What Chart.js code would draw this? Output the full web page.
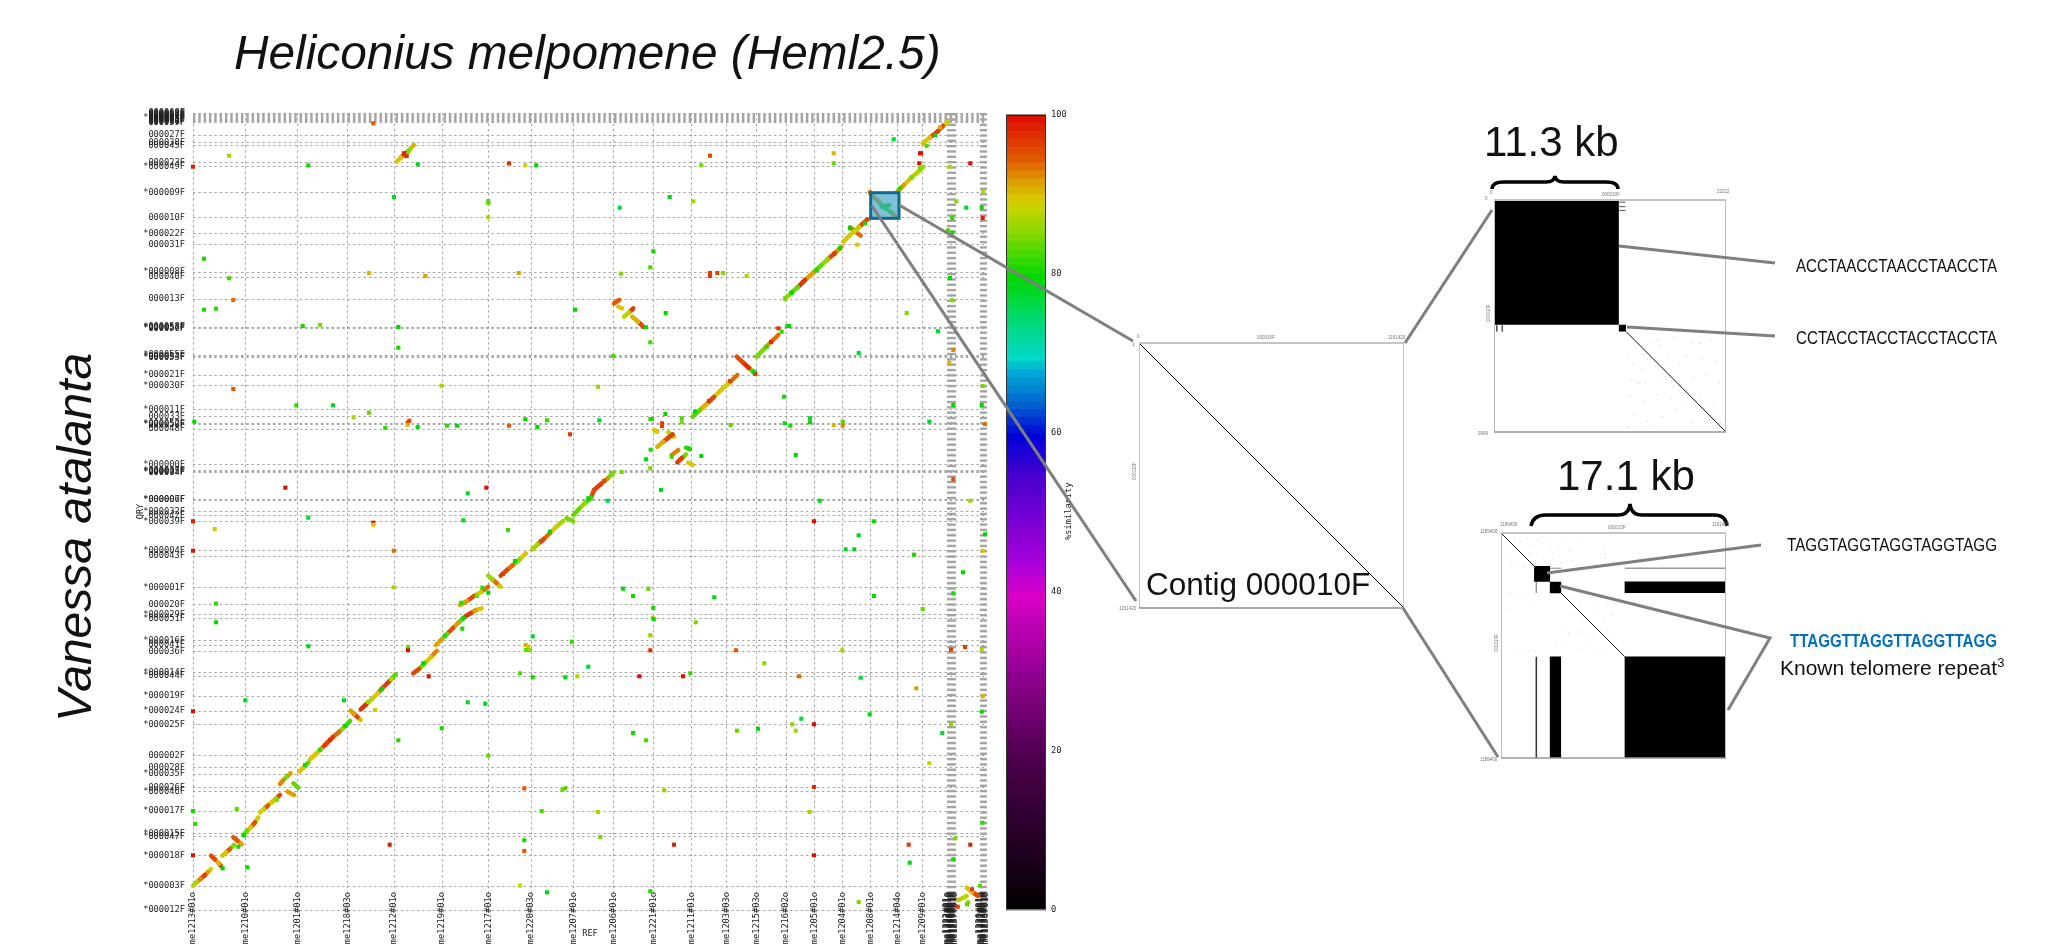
<!DOCTYPE html>
<html>
<head>
<meta charset="utf-8">
<title>Heliconius melpomene (Heml2.5) vs Vanessa atalanta</title>
<script src="https://cdn.jsdelivr.net/npm/chart.js@4/dist/chart.umd.js"></script>
<style>
    html, body { margin: 0; padding: 0; background: #fff; }
    #page { position: relative; width: 2060px; height: 946px; overflow: hidden; background: #fff; }
    #page canvas { position: absolute; }
    #notes { position: absolute; left: 0; top: 0; pointer-events: none; }
    #notes text { font-family: "Liberation Sans", Arial, sans-serif; }
    #notes .tiny { font-size: 4.5px; fill: #777; }
    #notes .mono { font-family: "DejaVu Sans Mono", monospace; font-size: 8.7px; fill: #222; }
    #notes .seq { font-size: 19px; fill: #111; }
</style>
</head>
<body>
<div id="page">
    <canvas id="dotplot" width="870" height="856" style="left:130px;top:90px"></canvas>
    <canvas id="colorbar" width="76" height="815" style="left:1000px;top:105px"></canvas>
    <canvas id="contig" width="269" height="269" style="left:1137px;top:341px"></canvas>
    <canvas id="zoomTop" width="240" height="240" style="left:1490px;top:196px"></canvas>
    <canvas id="zoomBottom" width="233" height="233" style="left:1497px;top:529px"></canvas>
    <svg id="notes" width="2060" height="946">
        <text x="234" y="69" font-size="47.8" font-style="italic" fill="#111">Heliconius melpomene (Heml2.5)</text>
        <text transform="translate(91,722) rotate(-90)" font-size="48" font-style="italic" fill="#111">Vanessa atalanta</text>
        <text class="mono" transform="translate(1071,540) rotate(-90)">%similarity</text>

        <g stroke="#7f7f7f" stroke-width="3" fill="none">
            <line x1="899" y1="205" x2="1133" y2="341"/>
            <line x1="872" y1="206" x2="1136" y2="601"/>
            <line x1="1405" y1="343" x2="1492" y2="210"/>
            <line x1="1403" y1="608" x2="1498" y2="757"/>
            <line x1="1619" y1="246" x2="1775" y2="263"/>
            <line x1="1627" y1="327" x2="1775" y2="336"/>
            <line x1="1547" y1="573" x2="1761" y2="545"/>
            <polyline points="1560,586 1770,638 1728,710"/>
        </g>
        <g stroke="#000" stroke-width="3.5" fill="none">
            <path d="M1492 189 Q1492 182 1504 182 L1546 182 Q1554 182 1555 176 Q1556 182 1564 182 L1606 182 Q1618 182 1618 189"/>
            <path d="M1531 526 Q1533 515 1546 515 L1618 515 Q1629 515 1630 504 Q1631 515 1642 515 L1714 515 Q1726 515 1727 526"/>
        </g>

        <text x="1484" y="156" font-size="42" fill="#111">11.3 kb</text>
        <text x="1557" y="490" font-size="42" fill="#111">17.1 kb</text>
        <text x="1146" y="595" font-size="31.5" fill="#111">Contig 000010F</text>
        <text class="seq" x="1796" y="272" textLength="201" lengthAdjust="spacingAndGlyphs">ACCTAACCTAACCTAACCTA</text>
        <text class="seq" x="1796" y="344" textLength="201" lengthAdjust="spacingAndGlyphs">CCTACCTACCTACCTACCTA</text>
        <text class="seq" x="1787" y="551" textLength="210" lengthAdjust="spacingAndGlyphs">TAGGTAGGTAGGTAGGTAGG</text>
        <text class="seq" x="1790" y="647" textLength="207" lengthAdjust="spacingAndGlyphs" font-weight="bold" style="fill:#0070c0">TTAGGTTAGGTTAGGTTAGG</text>
        <text x="1780" y="675" font-size="21" fill="#111">Known telomere repeat<tspan font-size="13" dy="-8">3</tspan></text>

        <text class="tiny" x="1137" y="338">0</text>
        <text class="tiny" x="1257" y="339">000010F</text>
        <text class="tiny" x="1388" y="339">1161420</text>
        <text class="tiny" x="1132" y="346">1</text>
        <text class="tiny" x="1119" y="610">1161420</text>
        <text class="tiny" transform="translate(1136,480) rotate(-90)">000010F</text>
        <text class="tiny" x="1490" y="194">0</text>
        <text class="tiny" x="1602" y="196">000010F</text>
        <text class="tiny" x="1717" y="193">22222</text>
        <text class="tiny" x="1485" y="200">0</text>
        <text class="tiny" x="1478" y="435">9999</text>
        <text class="tiny" transform="translate(1490,322) rotate(-90)">000010F</text>
        <text class="tiny" x="1500" y="526">1189400</text>
        <text class="tiny" x="1608" y="529">000010F</text>
        <text class="tiny" x="1712" y="526">1161420</text>
        <text class="tiny" x="1480" y="533">1189400</text>
        <text class="tiny" x="1480" y="761">1189400</text>
        <text class="tiny" transform="translate(1498,652) rotate(-90)">000010F</text>
    </svg>
</div>

<script>
// Contig boundaries on the query axis and their names
const contigTicks = [0, 24, 54.7, 73.3, 76.7, 99, 118.7, 122.7, 136, 142.7, 154.3, 185.7, 199, 214,
    234, 237.3, 258.7, 265, 269.3, 291.7, 295.3, 305.3, 322.7, 354, 359.3, 388.7, 394.3, 398.3,
    410, 410.7, 437.6, 438.3, 439, 445.7, 481, 485.4, 486.2, 493, 500.3, 524.3, 535, 552.7, 553.4, 555,
    581.7, 582.3, 583, 611, 633, 638, 665.3, 676.3, 692.7, 717.3, 743.7, 747.7, 764.3, 767.3, 775,
    787.2, 788.2, 789.2, 790.2, 791.2, 792.2, 793.2, 794.2, 795.2, 796.2, 796.8];
const contigLabels = ['*000012F', '*000003F', '*000018F', '*000047F', '*000015F', '*000017F', '*000046F', '000026F', '*000035F', '000028F', '000002F', '*000025F', '*000024F', '*000019F',
    '*000044F', '*000014F', '000036F', '000041F', '*000016F', '*000051F', '*000029F', '000020F', '*000001F', '000043F', '*000004F', '*000039F', '000042F', '*000032F',
    '*000006F', '*000007F', '*000034F', '*000005F', '*000037F', '*000000F', '000048F', '*000050F', '*000052F', '000033F', '*000011F', '*000030F', '*000021F', '*000053F', '*000054F', '*000055F',
    '*000056F', '*000057F', '*000058F', '000013F', '000040F', '*000008F', '000031F', '*000022F', '000010F', '*000009F', '*000049F', '000023F', '000045F', '000038F', '000027F',
    '000059F', '000060F', '000061F', '000062F', '000063F', '*000064F', '000065F', '000066F', '000067F', '000068F', '000069F'];

// Reference scaffold boundaries on the x axis and their names
const refTicks = [0, 52.7, 104.7, 154.3, 201, 249, 295.3, 338, 380.3, 420.3, 460.3, 498.7, 533.7, 563.7, 593, 621.3, 649.7, 677.7, 704.7, 729.7,
    754.2, 755.2, 756.2, 757.2, 758.2, 759.2, 760.2, 761.2, 762.2, 787.2, 788.2, 789.2, 790.2, 791.2, 792.2, 793.2];
const refLabels = ['me1213#01o', 'me1210#01o', 'me1201#01o', 'me1218#03o', 'me1212#01o', 'me1219#01o', 'me1217#01o', 'me1220#03o', 'me1207#01o', 'me1206#01o',
    'me1221#01o', 'me1211#01o', 'me1203#03o', 'me1215#03o', 'me1216#02o', 'me1205#01o', 'me1204#01o', 'me1208#01o', 'me1214#04o', 'me1209#01o',
    'me1222#01o', 'me1223#01o', 'me1224#01o', 'me1225#01o', 'me1226#01o', 'me1227#01o', 'me1228#01o', 'me1229#01o', 'me1237#01o',
    'me1230#01o', 'me1231#01o', 'me1232#01o', 'me1233#01o', 'me1234#01o', 'me1235#01o', 'me1236#01o'];

// Short alignments that show as single dots: [ref, query, % similarity]
const dots = [
    [180.3,786.7,95],[36,754.3,87],[0,743.3,99],[115.3,744.7,81],[224.7,745.7,79],[316,746.7,98],[332.3,744.7,89],[343.3,744.7,80],
    [201,713,78],[295.3,707,84],[295.3,709,84],[295.3,692.7,87],[426.7,702.3,78],[11,651.3,81],[176,637,91],[232.3,634,92],[325.7,637,92],
    [428,636.3,85],[36,631.7,83],[40.3,610,94],[11,600.3,81],[23,601.3,82],[382,600.3,80],[109.7,584,81],[127,585,85],[205.3,583,80],
    [205.3,562.3,81],[420.3,554,83],[40.3,521,95],[248.7,524.3,87],[405,523.3,86],[103.3,504.7,82],[140,504.7,79],[160.7,492.7,87],
    [176,497.3,84],[1.3,488.3,80],[192.3,482,82],[216.3,489.3,96],[214.7,487.3,97],[214.7,485.3,91],[224.7,483,79],[254,484.3,82],
    [264,484.3,80],[316,484.3,95],[332.3,490.7,80],[344.3,483,80],[354,489.7,82],[406.3,489.7,78],[377,475.7,97],[428.7,438,85],
    [92.3,422.3,100],[293.3,422.3,100],
    [274.7,416.7,78],[414.7,409.3,76],[115.3,392.3,77],[0,388.7,99],[180.3,387.3,100],[180.3,385.3,90],[270.3,389.7,79],[21.7,381,90],
    [315,380,83],[0,359.3,100],[201,359.3,94],[201,322.7,88],[430,321.3,80],[23,306.3,82],[23,287.7,80],[115.3,263.7,79],[215,263,84],
    [215,259.7,100],[269.3,281.3,81],[339.7,273.7,79],[379,268.3,82],[332.7,265,91],[335.3,263.3,90],[337,260,86],[333,260,84],
    [395.3,243.3,78],[327,236.7,83],[235.7,233.7,100],[339.7,232.7,81],[372.3,232.7,79],[384.3,233.7,88],[151,209.7,79],[52.3,209.7,79],
    [274.7,207.7,78],[292.3,206.3,79],[182,200,90],[0,198.7,100],[248.7,181.7,81],[205.3,169.7,82],[295.3,154.3,84],[331.3,121.7,95],
    [369.3,120,85],[372.3,121.7,83],[0,99,81],[348.7,99,83],[405,98,87],[43.7,101,84],[2,86,82],[331.3,69.7,81],[407.3,73,85],[196.7,65.3,99],
    [331.3,59,95],[0,54.7,100],[54.3,42.7,80],[327,24.3,89],[354,17.7,79],[29.7,41.7,80],[45.3,63.3,81],[268.3,307.3,82],[289.3,322.3,82],[295.3,317.3,80],
    [517,754.3,96],[508.3,744.7,85],[476.7,713,79],[500.3,708.7,86],[460.3,658.7,81],[457.3,642.7,83],[517,637,97],[517,634,97],[524.3,637,96],
    [530,637,85],[553.7,634,87],[472.7,597,80],[713.7,597,85],[745,578.7,78],[665.7,557,78],[457.3,567.7,83],[591,513.3,81],[472.3,496,80],
    [457.3,491,83],[459,491,81],[469,486.7,97],[469,484,97],[488.7,491.7,83],[488.7,487.7,85],[537.7,485,84],[591.7,486.7,79],[597.3,484.3,81],
    [617,491.7,78],[617,487.7,80],[640.7,485,91],[649.7,488.3,83],[649.7,484.3,93],[736.3,488.3,78],[457.7,460.3,81],[453,450.7,79],[508.3,454,80],
    [602.7,455,80],[457.3,441.7,85],[700.7,770.7,77],[640.7,756.7,91],[640.7,746.7,84],[727,756.7,100],[728,756.7,100],[726.3,746.7,100],[777.3,746.7,100],
    [757,743.3,88],[790.3,718,87],[763.3,708.7,86],[773.3,702.3,78],[788.7,702.3,80],[759.3,692,82],[789.7,692,99],[755,679.7,83],[759.3,677.3,81],
    [664.3,665.3,90],[757,632,80],[759.3,609.7,85],[760.3,560,93],[756.3,547.3,91],[789.7,524,85],[760.3,505,80],[788.7,505,80],[792,486,94],[760.3,430.7,96],
    [468,420,79],[626.7,409.3,79],[777.3,409.3,86],[621,388.7,100],[681,388.7,80],[665.7,374.7,78],[652.7,360.7,78],[661.3,360.7,78],[789.7,359.3,90],
    [721,355.3,81],[792,375.7,80],[770,337.7,80],[455.3,321.3,84],[440,314,81],[521.3,312.7,79],[681,314,80],[760.3,316.7,81],[460.3,302,81],[729.7,301,84],
    [459.7,292,88],[460.7,291,79],[502.7,287.7,85],[457.3,274.7,86],[457.3,259.7,98],[543,259.7,95],[649.3,259.7,87],[772,263,97],[758,260.3,97],[788.7,260.3,87],
    [571.3,246.7,86],[497.3,236.7,82],[446.3,233.7,100],[490,233.7,100],[606,233.7,94],[667.7,232.3,77],[723.3,221.7,92],[789.7,213.7,91],[788.7,198.3,80],
    [676.7,195.7,79],[608.3,191.3,77],[599.3,185.7,86],[621,185.7,100],[758,185.7,86],[544,179.3,84],[565,181.3,80],[602.7,179.3,86],[440,177,81],[749.3,177,78],
    [453,169.7,83],[736.3,146.7,89],[621,123,98],[471.3,119.7,86],[616.7,98,87],[789.3,87.3,82],[762.3,71.7,85],[481,65.3,99],[715.7,65.3,97],[777.3,65.3,99],
    [621,54.7,100],[716.7,47.3,79],[760.3,50.7,81],[457.3,18.7,81],[665.7,8,85],[787,24.3,84],[775.3,7.7,86],[774,5.7,84],
    [211,756.7,99],[213.7,754,98],[215.3,757.7,85],[478.7,453.3,82],[453,582.7,81],[562,536.3,98],[585.3,581.7,97],[588.7,578.3,82],[594.3,584,81],[596,584,80],
    [677,717.7,94],[733.7,764.3,83],[747,782.7,91],[764.7,3.3,97],[779,20.7,97]
];

// Patches of other colours sitting on the long alignments: [ref, query, % similarity]
const runPatches = [
    [127,160,82],[112,145,81],[230.3,246.7,80],[252,274.3,81],[188.7,221,80],[322,349,80],[357,378.3,80],[395.3,411.7,79],[152,184,79],
    [51,74.7,80],[83.7,110,85],[283.7,314,84],[270.3,291.7,80],[647,661.7,80],[623.7,640,82],[598.7,617.3,80],[502,498.3,80],[560.3,538.3,80],
    [573.7,563.3,82],[742,775,80],[672,686.7,81],[657,681.7,80],[707,721.7,82],[718.7,732.7,85],[727,741.7,85],[592,611.7,85],
    [137,170,98],[132,165,97],[175,208,86],[198,231,88],[310,336,97],[348,369,96],[411,429,96],[610,628,97],[641,656,97],[516,509,97],[537,529,96],[578,568,98]
];

// Longer alignments: [ref start, query start, ref end, query end, % similarity]
const runs = [
    [0,24.3,4,28,88],[4,28,8,31.5,93],[8,31.5,12,35,97],[12,35,15,38,92],[15,38,18,41,89],
    [18,54.3,22,50.5,96],[22,50.5,26,46.5,91],[26,46.5,28,44,96],
    [29.3,54.3,33,57.5,90],[33,57.5,37,61,95],[37,61,41,65,85],
    [40.3,72.7,44.5,69.2,95],[44.5,69.2,48.7,65.7,92],
    [50.3,75,54,79,84],[54,79,58,83,90],[58,83,62,87.5,96],[62,87.5,65.3,92.7,89],
    [67,97.7,71,101,89],[71,101,75,104.5,95],[75,104.5,79,108,90],[79,108,83,111.5,88],[83,111.5,87,115,96],
    [87,126,90,129.5,93],[90,129.5,94,133.5,85],[94,133.5,97.7,136.7,92],
    [94.7,118.3,101,115,92],[100.3,126.7,105.3,122.3,84],
    [106.3,138.3,111,143,90],[111,143,115.3,147.3,84],
    [117,150.7,123,156,90],[123,156,128,161,88],[128,161,134,167,96],[134,167,140,173,97],[140,173,146,178,94],[146,178,152,183.5,86],[152,183.5,157,189,83],
    [157.7,199.3,161,196,92],[161,196,164.5,193,96],[164.5,193,167.7,190,90],
    [167.7,200.7,173,205.5,98],[173,205.5,179,211,88],[179,211,185,217,90],[185,217,190,222.5,95],[190,222.5,196,228.5,97],[196,228.5,202.7,235.7,84],
    [220.3,236.7,226,241,96],[226,241,232,247,85],[232,247,238,253,90],[238,253,243.7,259,93],
    [243,265,248,270,92],[248,270,254,276,85],[254,276,260,282,96],[260,282,265,287,92],[265,287,270.3,291.7,84],
    [272,293.3,278,297,97],[278,297,283,300,92],[283,300,288.7,301.7,90],
    [267,305,274,309,92],[274,309,281,314,96],[281,314,288,318,90],[288,318,295.3,323.3,94],
    [295.3,334.3,299.5,330.5,86],[299.5,330.5,303.5,327,94],[303.5,327,307.7,323.3,90],
    [307.7,334.3,314,340,96],[314,340,320,345,94],[320,345,326,350,86],[326,350,333,356.7,90],
    [339.3,360.7,345,366,87],[345,366,351,371,96],[351,371,357,377,94],[357,377,363,383,90],[363,383,370.3,389,87],
    [373.7,391.7,380.3,388.7,85],
    [380.3,395,386,401,84],[386,401,392,407,86],[392,407,398,412,83],[398,412,401,420,96],
    [401,420,408,426,97],[408,426,414,431,93],[414,431,420.3,437.3,85],
    [203.7,748.3,208,752.5,90],[208,752.5,213,757,97],[213,757,217,761,86],[217,761,221,765,91],
    [464.3,463.3,470,468,91],[470,468,475,472,96],[475,472,479.7,475.7,97],
    [461.3,480,464.3,478.3,90],[475.3,477.7,481,473.3,88],[478.7,455,485.3,460,93],
    [484.3,447.7,489,452,97],[489,452,493,455.7,85],[493,462.3,497,461,81],[495.3,447.3,499.7,445,90],
    [421,606.7,426.3,610,95],[425.3,603.3,429,601.7,90],
    [431,593.3,436,597.5,88],[436,597.5,440.3,601.7,97],
    [439.3,593.3,445,588.3,91],[445,588.3,450.3,583.3,96],
    [499.7,493.3,507,500,84],[507,500,514,506.5,91],[514,506.5,521,513,96],[521,513,528,520,90],[528,520,535,526,89],[535,526,544.3,535,94],
    [543.7,553.3,550,547.5,96],[550,547.5,556,542,98],[556,542,563,536,85],
    [563.7,553.3,570,560,85],[570,560,578,568,92],[578,568,585.3,575,94],
    [592,611,598,617,86],[598,617,605,623,84],[605,623,612,630,98],[612,630,620,637,92],[620,637,628,644.5,84],[628,644.5,635,651,86],[635,651,642,657,96],[642,657,648.7,663.3,92],
    [650.3,668.3,656,674,90],[656,674,661,678.5,89],[661,678.5,666,683,88],[666,683,674.7,690.7,96],
    [657,682.7,667.7,674.3,94],
    [678.7,715,686,708,93],[686,708,692,702,80],[692,702,698,698,82],[698,698,703.7,692.7,93],[688.7,703.3,696.3,705,80],
    [704.7,719,711,725,92],[711,725,718,732,90],[718,732,725,738,88],[725,738,730.3,743.3,86],
    [729.7,766.7,737,772.5,90],[737,772.5,744,778,97],[744,778,750,784,96],[750,784,755.3,788.3,89],
    [765.3,10,773.7,14,88],[773.7,22.3,779,18,90],[779,18,785.3,14,96]
];

// Highlighted contig on the main plot: [ref start, ref end, query start, query end]
const highlightBox = [677.7, 706, 691.7, 717.3];

// Colour bar levels, one band per % similarity
const colorbarLevels = [1,2,3,4,5,6,7,8,9,10,11,12,13,14,15,16,17,18,19,20,
    21,22,23,24,25,26,27,28,29,30,31,32,33,34,35,36,37,38,39,40,
    41,42,43,44,45,46,47,48,49,50,51,52,53,54,55,56,57,58,59,60,
    61,62,63,64,65,66,67,68,69,70,71,72,73,74,75,76,77,78,79,80,
    81,82,83,84,85,86,87,88,89,90,91,92,93,94,95,96,97,98,99,100];
const colorbarTicks = [0, 20, 40, 60, 80, 100];

// Contig 000010F self alignment, in kb
const contigDiagonal = [[0, 0], [1161.4, 1161.4]];

// 11.3 kb end of the contig, in kb
const topBlocks = [[0, 11.3, 0, 11.3], [11.3, 11.95, 11.3, 11.9]];
const topDiagonal = [[11.95, 11.9], [21, 21]];
const topTicks = [[11.35, 0.2, 11.9, 0.2], [11.35, 0.6, 11.9, 0.6], [11.35, 0.95, 11.9, 0.95], [0.25, 11.35, 0.25, 11.9], [0.75, 11.35, 0.75, 11.9]];
const topNoise = [[13,12.6],[13.4,13.2],[13.6,13.4],[14.2,12.9],[14.8,12.7],[15,13.2],[16.3,12.5],[17.9,12.8],[18.6,13],[19.6,12.6],
    [12.2,14],[12.6,14.8],[13.4,15.4],[13.9,14.4],[14.6,15.1],[15.8,14.2],[16.8,14.9],[17.4,14.1],[18.8,14.4],[20.1,14.7],
    [12.4,16.3],[12.9,16.5],[13.2,16.6],[13.7,16.4],[15.4,16],[16.2,16.9],[18,16.2],[19.2,15.9],[20.4,16.5],[12.3,17.7],
    [13.5,18.2],[14.8,17.6],[16,18],[17.3,18.4],[18.7,17.8],[19.9,18.6],[12.7,19.4],[13.9,20],[15.2,19.6],[16.4,19.1],
    [17.9,20.1],[19.1,19.8],[20.5,20.2],[12.1,20.6],[14.4,20.4],[20.2,19.2]];

// 17.1 kb end of the contig, in kb
const bottomBlocks = [[2.94, 4.36, 2.94, 4.34], [4.34, 5.35, 4.34, 5.35], [10.99, 20, 4.31, 5.34], [10.99, 20, 10.98, 20], [4.34, 5.34, 10.98, 20]];
const bottomDiagonals = [[[0, 0], [2.94, 2.94]], [[5.35, 5.35], [10.99, 10.98]]];
const bottomLines = [[4.37, 3.14, 5.35, 3.14, '#aaa'], [11, 3.14, 20, 3.14, '#999'], [3.14, 4.34, 3.14, 5.34, '#999'], [3.14, 11, 3.14, 20, '#333']];
const bottomNoise = [[0.6,0.9],[1.2,0.4],[1.7,0.7],[2.3,0.5],[2.9,1],[3.2,0.6],[3.6,0.9],[4.1,0.5],[4.4,1.1],[1.1,1.6],
    [1.9,1.9],[2.5,1.8],[3.3,1.7],[4.6,1.8],[5.1,1.2],[5.8,0.9],[6.1,1.6],[0.5,2.2],[0.9,2.9],[1.6,2.5],
    [2,3],[3.8,2.3],[4.7,2.4],[5.4,2.6],[6.3,2.5],[7.1,0.7],[9.1,1.4],[9.2,2.2],[9.2,2.8],[9.3,1.9],
    [0.8,5.3],[1.3,5.9],[1.8,5.5],[2.6,6.1],[0.5,6.7],[6.2,5.9],[7,6.2],[7.9,5.7],[8.6,6.1],[9.4,6.4],
    [6.4,7.3],[7.2,7.6],[8.4,7.3],[9.1,7.8],[9.9,7.2],[5.5,8.3],[6,9],[6.9,8.8],[8.1,9.2],[9.5,8.8],
    [4.9,10.2],[5.6,9.9],[6.9,10.3],[7.7,10.1],[1.7,10.5],[2.1,10.5],[2.5,10.5],[3,10.5],[9.2,9.5],[8.8,10.4]];

// Colours: [% similarity, r, g, b]
const colorStops = [[0,0,0,0],[20,80,0,80],[30,144,0,144],[40,216,0,200],[44,168,0,216],[55,72,0,208],[60,0,0,216],
    [64,0,96,208],[68,0,168,216],[70,0,216,200],[74,0,216,128],[80,0,216,0],[86,144,216,0],[89.5,216,208,0],
    [92,220,160,0],[94.5,224,96,0],[100,221,17,0]];

// Similarity to colour
function colorFor(pct) {
    for (let i = 1; i < colorStops.length; i++) {
        const a = colorStops[i - 1];
        const b = colorStops[i];
        if (pct <= b[0]) {
            const t = (pct - a[0]) / (b[0] - a[0]);
            return `rgb(${Math.round(a[1] + t * (b[1] - a[1]))},${Math.round(a[2] + t * (b[2] - a[2]))},${Math.round(a[3] + t * (b[3] - a[3]))})`;
        }
    }
    return 'rgb(221,17,0)';
}

const toXY = p => ({ x: p[0], y: p[1] });

function lineSet(points, color, width) {
    return {
        data: points.map(toXY),
        showLine: true,
        borderColor: color,
        borderWidth: width,
        pointRadius: 0,
        clip: false
    };
}

// Filled rectangle through the scales: [x1, x2, y1, y2]
function blockSet(b) {
    return {
        data: [[b[0], b[2]], [b[1], b[2]], [b[1], b[3]], [b[0], b[3]], [b[0], b[2]]].map(toXY),
        showLine: true,
        fill: 'shape',
        backgroundColor: '#000',
        borderColor: '#000',
        borderWidth: 0,
        pointRadius: 0
    };
}

function noiseSet(points) {
    return {
        data: points.map(toXY),
        pointStyle: 'rect',
        pointRadius: 0.7,
        backgroundColor: '#c4c4c4',
        borderWidth: 0
    };
}

// Box around the plot area, one colour per edge
function framePlugin(top, side, bottom, topWidth) {
    return {
        id: 'frame',
        afterDatasetsDraw(chart) {
            const a = chart.chartArea;
            const ctx = chart.ctx;
            ctx.save();
            ctx.lineWidth = 1;
            ctx.strokeStyle = side;
            ctx.beginPath();
            ctx.moveTo(a.left + 0.5, a.top);
            ctx.lineTo(a.left + 0.5, a.bottom);
            ctx.moveTo(a.right - 0.5, a.top);
            ctx.lineTo(a.right - 0.5, a.bottom);
            ctx.stroke();
            ctx.strokeStyle = bottom;
            ctx.lineWidth = 1.5;
            ctx.beginPath();
            ctx.moveTo(a.left, a.bottom);
            ctx.lineTo(a.right, a.bottom);
            ctx.stroke();
            ctx.strokeStyle = top;
            ctx.lineWidth = topWidth;
            ctx.beginPath();
            ctx.moveTo(a.left, a.top);
            ctx.lineTo(a.right, a.top);
            ctx.stroke();
            ctx.restore();
        }
    };
}

// Teal box over the contig that is blown up on the right
const highlightPlugin = {
    id: 'highlight',
    afterDatasetsDraw(chart) {
        const x = chart.scales.x;
        const y = chart.scales.y;
        const left = x.getPixelForValue(highlightBox[0]);
        const right = x.getPixelForValue(highlightBox[1]);
        const top = y.getPixelForValue(highlightBox[3]);
        const bottom = y.getPixelForValue(highlightBox[2]);
        const ctx = chart.ctx;
        ctx.save();
        ctx.fillStyle = 'rgba(72,168,199,0.7)';
        ctx.strokeStyle = '#0e6a8e';
        ctx.lineWidth = 3;
        ctx.fillRect(left, top, right - left, bottom - top);
        ctx.strokeRect(left, top, right - left, bottom - top);
        ctx.restore();
    }
};

function smallPanel(id, datasets, xMax, yMax, plugin) {
    new Chart(document.getElementById(id), {
        type: 'scatter',
        data: { datasets: datasets },
        options: {
            responsive: false,
            animation: false,
            devicePixelRatio: 1,
            layout: { padding: 2 },
            plugins: { legend: { display: false }, tooltip: { enabled: false } },
            scales: {
                x: { display: false, min: 0, max: xMax },
                y: { display: false, min: 0, max: yMax, reverse: true }
            }
        },
        plugins: [plugin]
    });
}

// Main dot plot
function drawDotplot() {
    const monoFont = { family: '"DejaVu Sans Mono", monospace', size: 8.7 };
    const spots = dots.concat(runPatches);
    const datasets = [{
        data: spots.map(d => ({ x: d[0], y: d[1] })),
        pointStyle: 'rect',
        pointRadius: 2.9,
        pointBackgroundColor: spots.map(d => colorFor(d[2])),
        borderWidth: 0,
        clip: false
    }];
    runs.forEach(r => {
        const set = lineSet([[r[0], r[1]], [r[2], r[3]]], colorFor(r[4]), 4.5);
        set.borderCapStyle = 'round';
        datasets.push(set);
    });

    new Chart(document.getElementById('dotplot'), {
        type: 'scatter',
        data: { datasets: datasets },
        options: {
            responsive: false,
            animation: false,
            devicePixelRatio: 1,
            layout: { padding: { top: 23, right: 13, left: 0, bottom: 0 } },
            plugins: { legend: { display: false }, tooltip: { enabled: false } },
            scales: {
                x: {
                    min: 0,
                    max: 794,
                    grid: { color: '#a4a4a4', drawTicks: false },
                    border: { display: false, dash: [2.4, 2.93] },
                    title: { display: true, text: 'REF', color: '#222', font: monoFont, padding: { top: 0, bottom: 7 } },
                    ticks: {
                        autoSkip: false,
                        minRotation: 90,
                        maxRotation: 90,
                        padding: -18,
                        color: '#222',
                        font: monoFont,
                        callback: (value, index) => refLabels[index]
                    },
                    afterBuildTicks: scale => { scale.ticks = refTicks.map(v => ({ value: v })); },
                    afterFit: scale => {
                        scale.height = 36;
                        // labels sit inside the plot, so the scale's own clip has to go
                        scale._computeLabelArea = () => undefined;
                    }
                },
                y: {
                    min: 0,
                    max: 797,
                    grid: { color: '#a4a4a4', drawTicks: false },
                    border: { display: false, dash: [2.4, 2.93] },
                    title: { display: true, text: 'QRY', color: '#222', font: monoFont, padding: { top: 6, bottom: 0 } },
                    ticks: {
                        autoSkip: false,
                        padding: 8,
                        color: '#222',
                        font: monoFont,
                        callback: (value, index) => contigLabels[index]
                    },
                    afterBuildTicks: scale => { scale.ticks = contigTicks.map(v => ({ value: v })); },
                    afterFit: scale => { scale.width = 63; }
                }
            }
        },
        plugins: [highlightPlugin]
    });
}

// Similarity colour bar
function drawColorbar() {
    new Chart(document.getElementById('colorbar'), {
        type: 'bar',
        data: {
            labels: ['%similarity'],
            datasets: colorbarLevels.map(level => ({
                data: [level],
                backgroundColor: colorFor(level),
                borderWidth: 0,
                grouped: false,
                barPercentage: 1,
                categoryPercentage: 1
            }))
        },
        options: {
            responsive: false,
            animation: false,
            devicePixelRatio: 1,
            layout: { padding: { top: 8, bottom: 10, left: 6, right: 0 } },
            plugins: { legend: { display: false }, tooltip: { enabled: false } },
            scales: {
                x: { display: false },
                y: {
                    position: 'right',
                    min: 0,
                    max: 100,
                    grid: { display: false, drawTicks: false },
                    border: { display: false },
                    ticks: {
                        padding: 5,
                        color: '#222',
                        font: { family: '"DejaVu Sans Mono", monospace', size: 8.7 }
                    },
                    afterBuildTicks: scale => { scale.ticks = colorbarTicks.map(v => ({ value: v })); },
                    afterFit: scale => { scale.width = 30; }
                }
            }
        },
        plugins: [framePlugin('#222', '#333', '#777', 1.5)]
    });
}

// Three zoomed self alignments on the right
function drawPanels() {
    smallPanel('contig', [lineSet(contigDiagonal, '#111', 1)], 1161.4, 1161.4, framePlugin('#c4c4c4', '#c4c4c4', '#8c8c8c', 2));

    const top = topBlocks.map(blockSet);
    top.push(lineSet(topDiagonal, '#111', 1));
    topTicks.forEach(t => top.push(lineSet([[t[0], t[1]], [t[2], t[3]]], '#555', 1)));
    top.push(noiseSet(topNoise));
    smallPanel('zoomTop', top, 21, 21, framePlugin('#c4c4c4', '#bbb', '#999', 2));

    const bottom = bottomBlocks.map(blockSet);
    bottomDiagonals.forEach(d => bottom.push(lineSet(d, '#111', 1)));
    bottomLines.forEach(l => bottom.push(lineSet([[l[0], l[1]], [l[2], l[3]]], l[4], 1.5)));
    bottom.push(noiseSet(bottomNoise));
    smallPanel('zoomBottom', bottom, 20, 20, framePlugin('#c4c4c4', '#bbb', '#999', 2));
}

drawDotplot();
drawColorbar();
drawPanels();
</script>
</body>
</html>
